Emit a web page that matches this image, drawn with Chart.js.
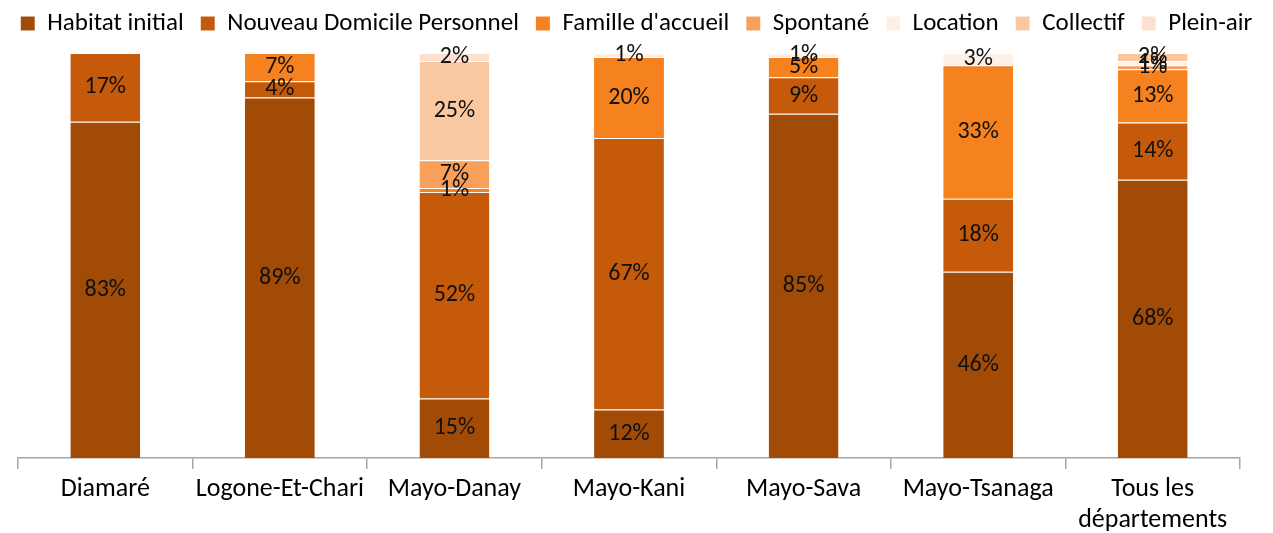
<!DOCTYPE html>
<html>
<head>
<meta charset="utf-8">
<script src="https://cdn.jsdelivr.net/npm/chart.js@4"></script>
<style>
    body { margin: 0; background: #fff; }
    #wrap { width: 1273px; height: 533px; position: relative; }
</style>
</head>
<body>
<div id="wrap"><canvas id="habitat"></canvas></div>
<script>
const departements = ["Diamaré", "Logone-Et-Chari", "Mayo-Danay", "Mayo-Kani", "Mayo-Sava", "Mayo-Tsanaga", ["Tous les", "départements"]];

// parts en % par département (0 = absent)
const habitatInitial   = [83, 89, 15, 12, 85, 46, 68];
const nouveauDomicile  = [17, 4, 52, 67, 9, 18, 14];
const familleAccueil   = [0, 7, 1, 20, 5, 33, 13];
const spontane         = [0, 0, 7, 0, 0, 0, 1];
const locationHabitat  = [0, 0, 0, 1, 1, 3, 1];
const collectif        = [0, 0, 25, 0, 0, 0, 2];
const pleinAir         = [0, 0, 2, 0, 0, 0, 0];

const series = [
    { label: "Habitat initial", values: habitatInitial, color: "#A14B07" },
    { label: "Nouveau Domicile Personnel", values: nouveauDomicile, color: "#C55B0A" },
    { label: "Famille d'accueil", values: familleAccueil, color: "#F6811F" },
    { label: "Spontané", values: spontane, color: "#F8A05A" },
    { label: "Location", values: locationHabitat, color: "#FDF0E6" },
    { label: "Collectif", values: collectif, color: "#FAC8A0" },
    { label: "Plein-air", values: pleinAir, color: "#FCE1D0" },
];

// empilement à 100 % : chaque colonne ramenée à son total
const totals = departements.map((d, i) =>
    series.reduce((s, serie) => s + serie.values[i], 0)
);

const fontFamily = "Carlito, Lato, 'Noto Sans', sans-serif";

const labelsPlugin = {
    id: "segmentLabels",
    afterDatasetsDraw(chart) {
        const ctx = chart.ctx;
        ctx.save();
        ctx.font = "24px " + fontFamily;
        ctx.fillStyle = "#111";
        ctx.textAlign = "center";
        ctx.textBaseline = "middle";
        chart.data.datasets.forEach((ds, di) => {
            const meta = chart.getDatasetMeta(di);
            meta.data.forEach((bar, i) => {
                const raw = series[di].values[i];
                if (!raw) return;
                const y = (bar.y + bar.base) / 2;
                ctx.fillText(raw + "%", bar.x, y);
            });
        });
        ctx.restore();
    },
};

// un peu plus d'espace sous la légende
const legendGap = {
    id: "legendGap",
    beforeLayout(chart) {
        const legend = chart.legend;
        if (!legend || legend._gapPatched) return;
        const fit = legend.fit;
        legend.fit = function () {
            fit.call(this);
            this.height += 7;
        };
        legend._gapPatched = true;
    },
};

// axes verticaux invisibles qui ne servent qu'à réserver les marges
const spacer = (w) => ({
    display: true,
    grid: { display: false },
    border: { display: false },
    ticks: { display: false },
    afterFit(scale) { scale.width = w; },
});

new Chart(document.getElementById("habitat"), {
    type: "bar",
    data: {
        labels: departements,
        datasets: series.map((s) => ({
            label: s.label,
            data: s.values.map((v, i) => (v / totals[i]) * 100),
            backgroundColor: s.color,
            borderColor: "rgba(255,255,255,0.25)",
            borderWidth: { top: 1, bottom: 0, left: 0, right: 0 },
            barPercentage: 1,
            categoryPercentage: 0.4,
        })),
    },
    options: {
        responsive: true,
        maintainAspectRatio: false,
        animation: false,
        layout: { padding: { left: 0, right: 0, top: -6, bottom: 0 } },
        plugins: {
            legend: {
                display: true,
                position: "top",
                labels: {
                    boxWidth: 14,
                    boxHeight: 14,
                    padding: 17,
                    color: "#000",
                    font: { size: 25, family: fontFamily },
                },
            },
            tooltip: { enabled: false },
        },
        scales: {
            x: {
                stacked: true,
                border: { display: true, color: "#A6A6A6", width: 1.5 },
                grid: {
                    display: true,
                    drawOnChartArea: false,
                    drawTicks: true,
                    tickLength: 11,
                    color: "#A6A6A6",
                    lineWidth: 1.5,
                    offset: true,
                },
                ticks: {
                    color: "#000",
                    padding: 5,
                    maxRotation: 0,
                    autoSkip: false,
                    font: { size: 26, family: fontFamily, lineHeight: 1.2 },
                },
                afterFit(scale) { scale.height = 75; },
            },
            y: {
                stacked: true,
                min: 0,
                max: 100,
                ...spacer(18),
            },
            yRight: {
                position: "right",
                ...spacer(33),
            },
        },
    },
    plugins: [labelsPlugin, legendGap],
});
</script>
</body>
</html>
